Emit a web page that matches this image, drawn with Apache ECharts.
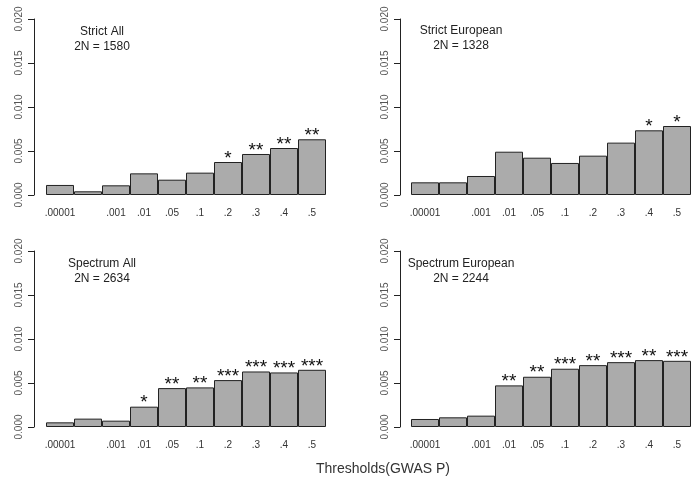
<!DOCTYPE html>
<html>
<head>
<meta charset="utf-8">
<script src="https://cdn.jsdelivr.net/npm/echarts@6/dist/echarts.min.js"></script>
<style>
  html, body { margin: 0; padding: 0; background: #fff; }
  #chart { width: 693px; height: 484px; }
</style>
</head>
<body>
<div id="chart"></div>
<script>
var chartDom = document.getElementById("chart")
var chart = echarts.init(chartDom)

// thresholds (the second bar, .0001, has no label in the figure)
var thresholds = [".00001", "", ".001", ".01", ".05", ".1", ".2", ".3", ".4", ".5"]

var strictAll = [0.00114, 0.00042, 0.0011, 0.00246, 0.00174, 0.00254, 0.00375, 0.00466, 0.00534, 0.00633]
var strictAllStars = ["", "", "", "", "", "", "*", "**", "**", "**"]

var strictEur = [0.00144, 0.00144, 0.00216, 0.00492, 0.00424, 0.00364, 0.00447, 0.00595, 0.00735, 0.00784]
var strictEurStars = ["", "", "", "", "", "", "", "", "*", "*"]

var spectrumAll = [0.00053, 0.00095, 0.00072, 0.00231, 0.00442, 0.0045, 0.00533, 0.00631, 0.0062, 0.0065]
var spectrumAllStars = ["", "", "", "*", "**", "**", "***", "***", "***", "***"]

var spectrumEur = [0.00091, 0.0011, 0.00129, 0.00473, 0.00571, 0.00662, 0.00703, 0.00737, 0.0076, 0.00752]
var spectrumEurStars = ["", "", "", "**", "**", "***", "**", "***", "**", "***"]

var panelTitles = ["Strict All", "Strict European", "Spectrum All", "Spectrum European"]
var panelN = ["2N = 1580", "2N = 1328", "2N = 2634", "2N = 2244"]

var panels = [
  { values: strictAll, stars: strictAllStars, left: 46, top: 19, axisOffset: 12 },
  { values: strictEur, stars: strictEurStars, left: 411, top: 19, axisOffset: 11 },
  { values: spectrumAll, stars: spectrumAllStars, left: 46, top: 251, axisOffset: 12 },
  { values: spectrumEur, stars: spectrumEurStars, left: 411, top: 251, axisOffset: 11 },
]

var font = "Liberation Sans, Arial, sans-serif"

function getGrids() {
  return panels.map(function (p) {
    return { left: p.left, top: p.top, width: 280, height: 176 }
  })
}

function getXAxes() {
  return panels.map(function (p, i) {
    return {
      type: "category",
      gridIndex: i,
      data: thresholds,
      axisLine: { show: false },
      axisTick: { show: false },
      axisLabel: {
        interval: 0,
        fontSize: 10,
        color: "#333",
        fontFamily: font,
        margin: 13,
      },
    }
  })
}

function getYAxes() {
  return panels.map(function (p, i) {
    return {
      type: "value",
      gridIndex: i,
      min: 0,
      max: 0.02,
      interval: 0.005,
      offset: p.axisOffset,
      splitLine: { show: false },
      axisLine: { show: true, lineStyle: { color: "#222", width: 1 } },
      axisTick: { show: true, length: 6, lineStyle: { color: "#222" } },
      axisLabel: {
        rotate: 90,
        fontSize: 10,
        color: "#555",
        fontFamily: font,
        margin: 10,
        formatter: function (v) {
          return v.toFixed(3)
        },
      },
    }
  })
}

function getSeries() {
  return panels.map(function (p, i) {
    return {
      type: "bar",
      xAxisIndex: i,
      yAxisIndex: i,
      data: p.values,
      barCategoryGap: "0%",
      itemStyle: { color: "#ababab", borderColor: "#222", borderWidth: 1 },
      label: {
        show: true,
        position: "top",
        distance: -6,
        fontSize: 19,
        color: "#111",
        fontFamily: font,
        formatter: function (d) {
          return p.stars[d.dataIndex]
        },
      },
      silent: true,
    }
  })
}

function getTexts() {
  var pos = [
    [102, 24],
    [461, 23],
    [102, 256],
    [461, 256],
  ]
  var items = []
  for (var i = 0; i < 4; i++) {
    items.push({
      type: "text",
      x: pos[i][0],
      y: pos[i][1],
      style: {
        text: panelTitles[i] + "\n" + panelN[i],
        fill: "#222",
        font: "12px " + font,
        align: "center",
        lineHeight: 15,
      },
    })
  }
  items.push({
    type: "text",
    x: 383,
    y: 462,
    style: {
      text: "Thresholds(GWAS P)",
      fill: "#333",
      font: "14px " + font,
      align: "center",
    },
  })
  return items
}

var option = {
  backgroundColor: "#fff",
  animation: false,
  grid: getGrids(),
  xAxis: getXAxes(),
  yAxis: getYAxes(),
  series: getSeries(),
  graphic: getTexts(),
}

chart.setOption(option)
</script>
</body>
</html>
